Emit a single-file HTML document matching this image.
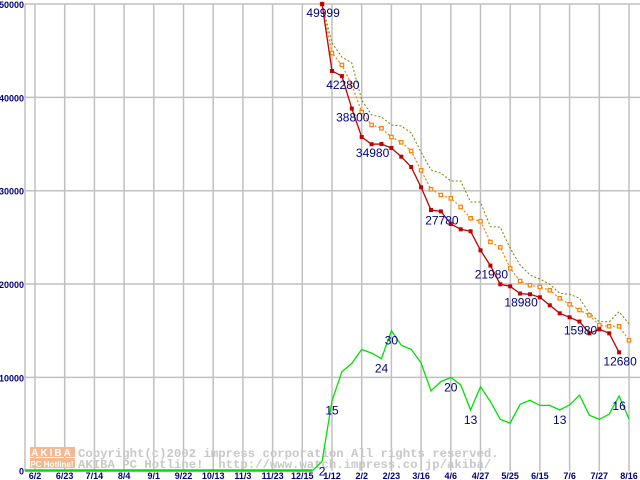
<!DOCTYPE html>
<html><head><meta charset="utf-8"><style>
html,body{margin:0;padding:0;background:#fff;}
svg{display:block;}
</style></head><body>
<svg id="chart" width="640" height="480" viewBox="0 0 640 480" xmlns="http://www.w3.org/2000/svg">
<g id="grid"></g>
<g id="wm">
 <rect x="30" y="447" width="45" height="10" fill="#f6b890"/>
 <rect x="30" y="458" width="45" height="10" fill="#f6b890"/>
 <text x="52" y="456" text-anchor="middle" font-family="Liberation Sans, sans-serif" font-weight="bold" font-size="10" fill="#fff" letter-spacing="2">AKIBA</text>
 <text x="52" y="467" text-anchor="middle" font-family="Liberation Sans, sans-serif" font-weight="bold" font-size="8" fill="#fff">PC Hotline!</text>
 <text x="78" y="457" font-family="Liberation Mono, monospace" font-weight="bold" font-size="12.3" fill="#c8c8c8">Copyright(c)2002 impress corporation All rights reserved.</text>
 <text x="78" y="468" font-family="Liberation Mono, monospace" font-weight="bold" font-size="12.3" fill="#c8c8c8" xml:space="preserve">AKIBA PC Hotline!  http://www.watch.impress.co.jp/akiba/</text>
</g>
<g id="series"></g>
</svg>
<script>
const xLabels=["6/2","6/23","7/14","8/4","9/1","9/22","10/13","11/3","11/23","12/15","1/12","2/2","2/23","3/16","4/6","4/27","5/25","6/15","7/6","7/27","8/16"];
const yTicks=[0,10000,20000,30000,40000,50000];
const startIdx=29;
const redVals=[49999,42826,42280,38800,35755,34980,35005,34576,33644,32540,30365,27933,27780,26433,25865,25651,23615,21980,19972,19758,18980,18900,18579,17722,16865,16436,15980,14722,15150,14722,12680];
const orangeVals=[50000,44755,43469,41326,38434,37041,36687,35755,35187,34255,32187,30151,29540,29187,28255,27044,26722,24504,23936,21687,20326,19865,19683,19329,18472,17829,17218,16650,15579,15472,15472,13972];
const oliveVals=[50000,45826,44326,43684,39719,38112,37898,37041,36933,36183,34147,32219,31897,31040,31040,28790,28790,26144,26080,23829,22040,20968,20540,19972,19008,18900,18472,16865,15965,15965,17036,15718];
const greenVals=[0,0,0,0,0,0,0,0,0,0,0,0,0,0,0,0,0,0,0,0,0,0,0,0,0,0,0,0,0,2,15,21.2,23,26,25.2,24,30,26.9,26,23.1,17.1,19.1,20,18.4,13,18,14.8,11,10.2,14.2,15.1,14,14,13,14.1,16.2,11.9,11,12.1,16,11.1];
const redLabelIdx=[0,2,3,5,12,17,20,26,30];
const greenLabelIdx=[29,30,35,36,42,44,53,59];
const greenScale=500;
const NS="http://www.w3.org/2000/svg";
function xPos(i){return 35+9.9*i;}
function yPos(v){return 470.7-v*0.009333;}
function mk(tag,attrs,parent){const e=document.createElementNS(NS,tag);for(const k in attrs)e.setAttribute(k,attrs[k]);parent.appendChild(e);return e;}
const grid=document.getElementById('grid');
const ser=document.getElementById('series');
yTicks.forEach(function(v){
  if(v>0){const l=mk('line',{x1:25,x2:640,y1:yPos(v),y2:yPos(v),stroke:'#c0c0c0','stroke-width':1.5},grid);
  
  }
  const t=mk('text',{x:24,y:yPos(v)+4,'text-anchor':'end','font-family':'Liberation Sans, sans-serif','font-weight':'bold','font-size':9,fill:'#000080'},grid);
  t.textContent=String(v);
  
  
});
const ax=mk('line',{x1:25,x2:25,y1:4,y2:471,stroke:'#c0c0c0','stroke-width':1.5},grid);


xLabels.forEach(function(s,k){
  const x=xPos(k*3);
  const l=mk('line',{x1:x,x2:x,y1:4,y2:471,stroke:'#c0c0c0','stroke-width':1.5},grid);
  
  
  const t=mk('text',{x:x,y:479,'text-anchor':'middle','font-family':'Liberation Sans, sans-serif','font-weight':'bold','font-size':9,fill:'#000080'},grid);
  t.textContent=s;
  
  
});
function pts(vals,start,scale){return vals.map(function(v,j){return xPos(start+j).toFixed(1)+','+yPos(v*scale).toFixed(1);}).join(' ');}
const g=mk('polyline',{points:pts(greenVals,0,greenScale),fill:'none',stroke:'#00e000','stroke-width':1.3},ser);


const g0=mk('line',{x1:25,x2:xPos(28),y1:470.5,y2:470.5,stroke:'#00e000','stroke-width':2.5},ser);


const o=mk('polyline',{points:pts(oliveVals,startIdx,1),fill:'none',stroke:'#808000','stroke-width':1,'stroke-dasharray':'2,2'},ser);


const or=mk('polyline',{points:pts(orangeVals,startIdx,1),fill:'none',stroke:'#ff8000','stroke-width':1.2,'stroke-dasharray':'2,2'},ser);


orangeVals.forEach(function(v,j){
  const r=mk('rect',{x:xPos(startIdx+j)-1.7,y:yPos(v)-1.7,width:3.4,height:3.4,fill:'#fff',stroke:'#ff8000','stroke-width':1.2},ser);
  
  
});
const rd=mk('polyline',{points:pts(redVals,startIdx,1),fill:'none',stroke:'#c00000','stroke-width':1.3},ser);


redVals.forEach(function(v,j){
  const r=mk('rect',{x:xPos(startIdx+j)-2,y:yPos(v)-2,width:4,height:4,fill:'#c00000'},ser);
  
  
});
redLabelIdx.forEach(function(j){
  const t=mk('text',{x:xPos(startIdx+j)+1,y:yPos(redVals[j])+13,'text-anchor':'middle','font-family':'Liberation Sans, sans-serif','font-size':12,fill:'#000080'},ser);
  t.textContent=String(redVals[j]);
  
  
});
greenLabelIdx.forEach(function(i){
  const t=mk('text',{x:xPos(i),y:yPos(greenVals[i]*greenScale)+14,'text-anchor':'middle','font-family':'Liberation Sans, sans-serif','font-size':12,fill:'#000080'},ser);
  t.textContent=String(Math.round(greenVals[i]));
  
  
});
</script>
</body></html>
